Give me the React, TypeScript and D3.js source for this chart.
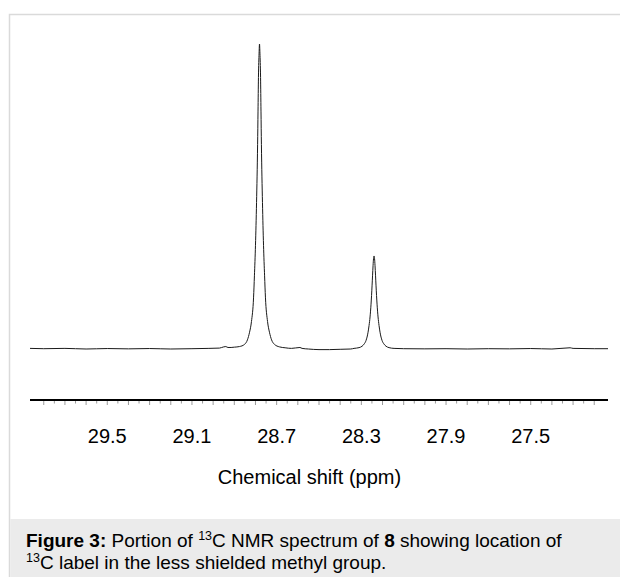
import React from "react";
import * as d3 from "d3";

// Spectrum samples: chemical shift (ppm) and relative intensity (%)
const shiftPpm: number[] = [
  29.865, 29.8, 29.7, 29.6, 29.5, 29.4, 29.3, 29.2, 29.1, 29.02, 28.97, 28.95, 28.94, 28.93, 28.915, 28.9,
  28.8755, 28.852, 28.838, 28.828, 28.819, 28.809, 28.805, 28.8, 28.795, 28.79, 28.788, 28.786, 28.783,
  28.781,
  28.779, 28.776, 28.774, 28.772, 28.767, 28.762, 28.757, 28.753, 28.743, 28.734, 28.724, 28.71, 28.687,
  28.66, 28.63, 28.59, 28.58, 28.55, 28.5, 28.45, 28.4, 28.35, 28.3345,
  28.3109, 28.2967, 28.2872, 28.2778, 28.2683, 28.2636, 28.2589, 28.2542, 28.2494, 28.2471, 28.2447, 28.2424,
  28.24,
  28.2376, 28.2353, 28.2329, 28.2306, 28.2258, 28.2211, 28.2164, 28.2117, 28.2022, 28.1928, 28.1833, 28.1691,
  28.1455, 28.1, 28.0, 27.9, 27.8, 27.7, 27.6, 27.5, 27.4, 27.314, 27.3, 27.2, 27.135,
];
const intensity: number[] = [
  0.2, 0.1, 0.2, 0.0, 0.15, 0.05, 0.15, 0.0, 0.1, 0.2, 0.3, 0.7, 0.8, 0.5, 0.5, 0.6,
  0.8, 1.5, 3, 5.5, 9, 17, 24, 34, 48, 67, 78, 89, 97,
  100,
  97, 89, 78, 67, 48, 34, 24, 17, 9, 5.5, 3, 1.5, 0.7,
  0.4, 0.2, 0.5, 0.2, 0.0, -0.2, -0.2, -0.1, 0.0, 0.2,
  0.45, 0.9, 1.6, 2.8, 5.5, 7.7, 10.5, 14.7, 20.7, 24, 27.3, 29.6,
  30.5,
  29.6, 27.3, 24, 20.7, 14.7, 10.5, 7.7, 5.5, 2.8, 1.6, 0.9, 0.45,
  0.2, 0.1, 0.05, 0.1, 0.0, 0.1, 0.05, 0.15, 0.0, 0.4, 0.2, 0.1, 0.1,
];

const tickLabels: number[] = [29.5, 29.1, 28.7, 28.3, 27.9, 27.5];
const axisDomain: [number, number] = [29.865, 27.135];
const axisTitle = "Chemical shift (ppm)";

const W = 620;
const H = 577;

export default function App() {
  const x = d3.scaleLinear().domain(axisDomain).range([30, 608]);
  const y = d3.scaleLinear().domain([0, 100]).range([349, 44]);

  const pts: [number, number][] = shiftPpm.map((p, i) => [p, intensity[i]]);
  const line = d3
    .line<[number, number]>()
    .x((d) => x(d[0]))
    .y((d) => y(d[1]))
    .curve(d3.curveMonotoneX);

  const minorTicks = d3.range(0, 53).map((i) => +(29.8 - i * 0.05).toFixed(2));

  const font = "'Liberation Sans', Arial, Helvetica, sans-serif";
  const axisY = 400;

  return (
    <svg
      width={W}
      height={H}
      style={{ position: "absolute", left: 0, top: 0, display: "block" }}
      fontFamily={font}
    >
      <rect x={0} y={0} width={W} height={H} fill="#ffffff" />
      {/* frame */}
      <rect x={9.5} y={14.5} width={W + 20} height={H + 20} fill="#ffffff" stroke="#dadada" strokeWidth={1.5} />
      {/* caption background */}
      <rect x={10.25} y={519} width={W} height={H - 519} fill="#ebebeb" />

      {/* spectrum */}
      <path d={line(pts) || ""} fill="none" stroke="#1a1a1a" strokeWidth={1} />

      {/* axis */}
      <line x1={30} x2={608} y1={axisY} y2={axisY} stroke="#000" strokeWidth={2} />
      {minorTicks.map((t, i) => {
        const major = Math.abs(Math.round(t * 10) - t * 10) < 1e-6;
        return (
          <line
            key={i}
            x1={x(t)}
            x2={x(t)}
            y1={axisY + 1}
            y2={axisY + (major ? 5 : 3.5)}
            stroke="#9a9a9a"
            strokeWidth={1}
          />
        );
      })}
      {tickLabels.map((t) => (
        <text key={t} x={x(t)} y={443} textAnchor="middle" fontSize={20} fill="#000">
          {t.toFixed(1)}
        </text>
      ))}
      <text x={309.5} y={484} textAnchor="middle" fontSize={20} fill="#000">
        {axisTitle}
      </text>

      {/* caption */}
      <text x={26} y={547} fontSize={19} fill="#000">
        <tspan fontWeight="bold">Figure 3:</tspan>
        <tspan> Portion of </tspan>
        <tspan fontSize={12.5} dy={-7}>13</tspan>
        <tspan dy={7}>C NMR spectrum of </tspan>
        <tspan fontWeight="bold">8</tspan>
        <tspan> showing location of</tspan>
      </text>
      <text x={26} y={569} fontSize={19} fill="#000">
        <tspan fontSize={12.5} dy={-7}>13</tspan>
        <tspan dy={7}>C label in the less shielded methyl group.</tspan>
      </text>
    </svg>
  );
}
